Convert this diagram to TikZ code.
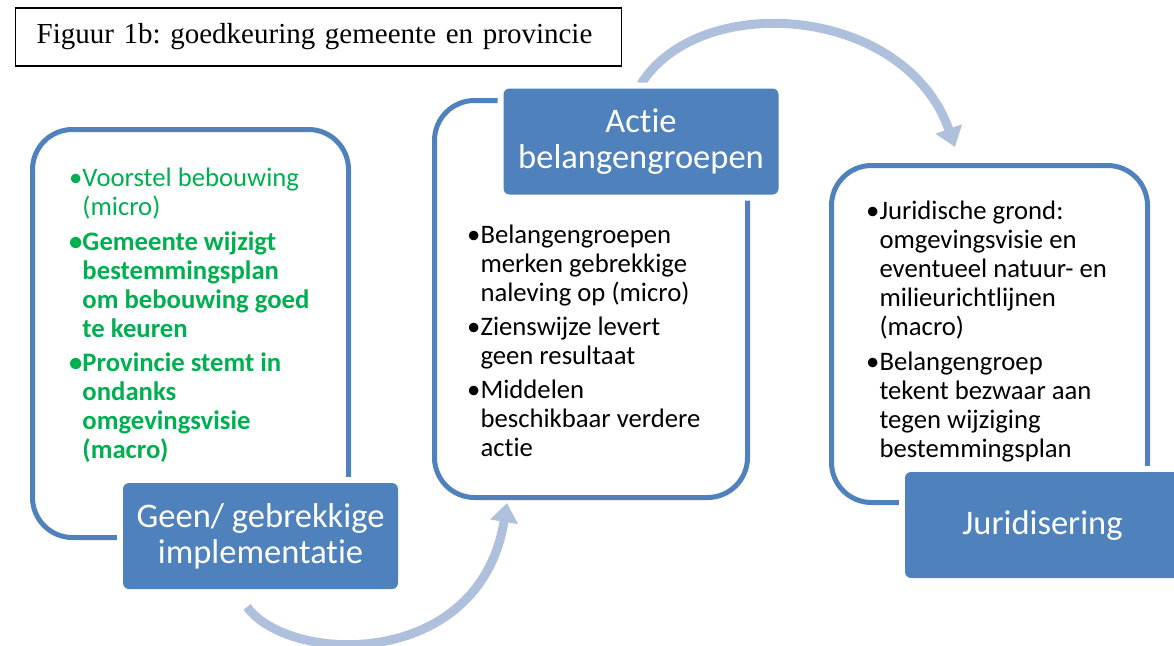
\documentclass[tikz,border=0pt]{standalone}
\usepackage{fontspec}
\setmainfont{Carlito}[Ligatures=NoCommon]
\newfontfamily\titlefont{Liberation Serif}
\usetikzlibrary{arrows.meta}
\definecolor{accent}{HTML}{4F81BD}
\definecolor{flow}{HTML}{AFC0DC}
\definecolor{grn}{HTML}{00B050}
\frenchspacing
\tikzset{
  outlinebox/.style={draw=accent, line width=5pt, rounded corners=40pt, fill=white, inner sep=0pt},
  tagbox/.style={fill=accent, preaction={draw=white, line width=12pt}, rounded corners=6pt,
    text=white, font=\fontsize{34.5}{36}\selectfont, align=center, inner sep=0pt,
    minimum width=275pt, minimum height=106pt},
  flowarrow/.style={draw=flow, line width=9pt, -{Triangle[width=27pt,length=19pt]}},
  bodytext/.style={anchor=base west, inner sep=0pt, font=\fontsize{26.7}{29}\selectfont},
  titlebox/.style={draw=black, line width=1.3pt, inner xsep=21pt, inner ysep=0pt,
    minimum height=58pt, text width=564pt, align=left, font=\titlefont\fontsize{29}{32}\selectfont}
}
\begin{document}
\begin{tikzpicture}[x=1pt,y=-1pt]
\useasboundingbox (0,0) rectangle (1174,645);
% title
\node[titlebox, anchor=west] (title) at (15,37) {Figuur 1b: goedkeuring gemeente en provincie};
% outline boxes
\node[outlinebox, minimum width=316pt, minimum height=408pt] (f1) at (190.5,333.5) {};
\node[outlinebox, minimum width=313pt, minimum height=397pt] (f2) at (591,299) {};
\node[outlinebox, minimum width=316pt, minimum height=337pt] (f3) at (989.5,334) {};
% arrows
\coordinate (a1s) at (247,607);
\coordinate (a1e) at (507,503);
\coordinate (a2s) at (641,84);
\coordinate (a2e) at (955,147);
\draw[flowarrow] (a1s) .. controls (290,665) and (480,670) .. (a1e);
\draw[flowarrow] (a2s) .. controls (700,-10) and (905,5) .. (a2e);
% tags
\node[tagbox] (t1) at (260.5,536) {Geen/ gebrekkige\\implementatie};
\node[tagbox] (t2) at (641,141.5) {Actie\\belangengroepen};
\node[tagbox] (t3) at (1042.5,525) {Juridisering};
% texts
\node[bodytext, text=grn] (l1) at (69,186) {%
\begin{tabular}[t]{@{}l@{}l@{}}
\textbullet & Voorstel bebouwing\\
 & (micro)\\[6pt]
\textbf{\textbullet} & \textbf{Gemeente wijzigt}\\
 & \textbf{bestemmingsplan}\\
 & \textbf{om bebouwing goed}\\
 & \textbf{te keuren}\\[5pt]
\textbf{\textbullet} & \textbf{Provincie stemt in}\\
 & \textbf{ondanks}\\
 & \textbf{omgevingsvisie}\\
 & \textbf{(macro)}
\end{tabular}};
\node[bodytext, text=black] (l2) at (467,243) {%
\begin{tabular}[t]{@{}l@{}l@{}}
\textbullet & Belangengroepen\\
 & merken gebrekkige\\
 & naleving op (micro)\\[5pt]
\textbullet & Zienswijze levert\\
 & geen resultaat\\[5pt]
\textbullet & Middelen\\
 & beschikbaar verdere\\
 & actie
\end{tabular}};
\node[bodytext, text=black] (l3) at (866,219) {%
\begin{tabular}[t]{@{}l@{}l@{}}
\textbullet & Juridische grond:\\
 & omgevingsvisie en\\
 & eventueel natuur- en\\
 & milieurichtlijnen\\
 & (macro)\\[6pt]
\textbullet & Belangengroep\\
 & tekent bezwaar aan\\
 & tegen wijziging\\
 & bestemmingsplan
\end{tabular}};
\end{tikzpicture}
\end{document}
